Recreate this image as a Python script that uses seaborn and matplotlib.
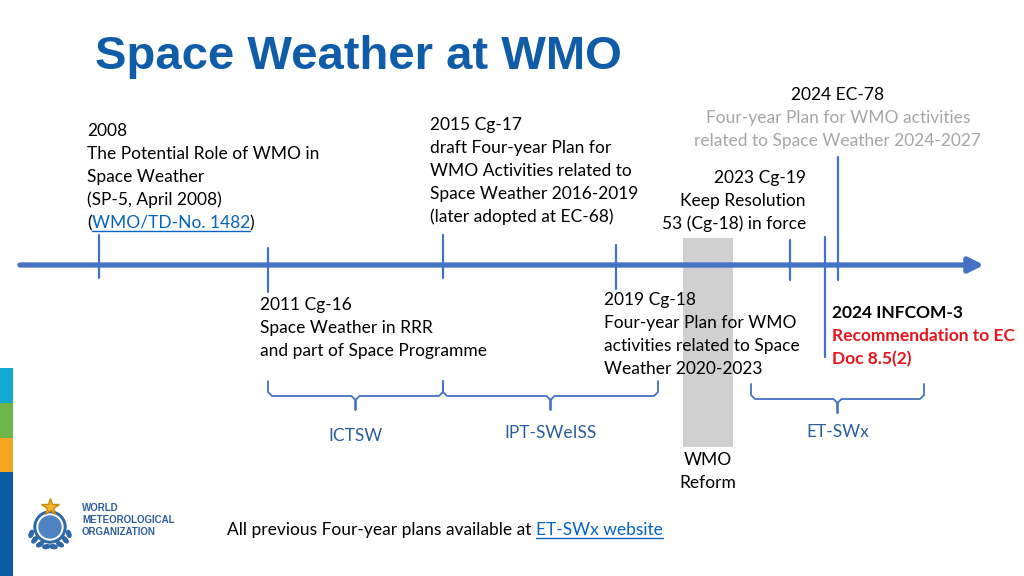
import numpy as np
import pandas as pd
import seaborn as sns
import matplotlib.pyplot as plt
from matplotlib.patches import Rectangle, Circle, Ellipse

# Timeline events
events = ["2008", "2011 Cg-16", "2015 Cg-17", "2019 Cg-18", "2023 Cg-19", "2024 INFCOM-3", "2024 EC-78"]
event_pos = [99, 268, 443, 616, 790, 825, 838]
tick_top = [235, 248, 235, 245, 240, 237, 157]
tick_bottom = [278, 292, 278, 289, 280, 357, 280]

# Bodies (bracketed periods)
periods = ["ICTSW", "IPT-SWeISS", "ET-SWx"]
period_start = [268, 443, 751]
period_end = [443, 658, 924]

# Event descriptions
txt_2008 = ["2008", "The Potential Role of WMO in", "Space Weather", "(SP-5, April 2008)"]
link_2008 = "WMO/TD-No. 1482"
txt_2011 = ["2011 Cg-16", "Space Weather in RRR", "and part of Space Programme"]
txt_2015 = ["2015 Cg-17", "draft Four-year Plan for", "WMO Activities related to",
            "Space Weather 2016-2019", "(later adopted at EC-68)"]
txt_2019 = ["2019 Cg-18", "Four-year Plan for WMO", "activities related to Space", "Weather 2020-2023"]
txt_2023 = ["2023 Cg-19", "Keep Resolution", "53 (Cg-18) in force"]
txt_ec78 = "2024 EC-78"
txt_ec78_sub = ["Four-year Plan for WMO activities", "related to Space Weather 2024-2027"]
txt_infcom = "2024 INFCOM-3"
txt_infcom_sub = ["Recommendation to EC", "Doc 8.5(2)"]
reform_label = ["WMO", "Reform"]
footer = "All previous Four-year plans available at "
footer_link = "ET-SWx website"

BLUE = "#4472C4"
TITLE_BLUE = "#0F5CA8"
LINK = "#0563C1"
DARKBLUE = "#2B5E9C"
FONT = ["Lato", "DejaVu Sans"]
FS = 12.5
LH = 23

sns.set_theme(style="white")
plt.rcParams["font.family"] = FONT

fig = plt.figure(figsize=(10.24, 5.76), dpi=100)
ax = fig.add_axes([0, 0, 1, 1])
ax.set_xlim(0, 1024)
ax.set_ylim(576, 0)
ax.axis("off")
renderer = fig.canvas.get_renderer()


def txt(x, y, s, **kw):
    kw.setdefault("fontsize", FS)
    kw.setdefault("color", "black")
    kw.setdefault("va", "baseline")
    return ax.text(x, y, s, **kw)


def width(t):
    bb = t.get_window_extent(renderer=renderer)
    return bb.width


def underline(t, x, y, color):
    w = width(t)
    ax.plot([x, x + w], [y + 2.5, y + 2.5], color=color, lw=1.0)


def block(x, y0, lines, **kw):
    for i, s in enumerate(lines):
        txt(x, y0 + i * LH, s, **kw)


# Title
ax.text(95, 69, "Space Weather at WMO", fontsize=34, fontweight="bold",
        color=TITLE_BLUE, family="Liberation Sans", va="baseline")

# Left colour strip
for y0, y1, c in [(368, 403, "#14A8D5"), (403, 438, "#6DB54B"),
                  (438, 472, "#F5A623"), (472, 576, "#0B5AA6")]:
    ax.add_patch(Rectangle((0, y0), 13, y1 - y0, color=c, lw=0))

# WMO Reform band
ax.add_patch(Rectangle((683, 238), 50, 209, color="#D0D0D0", lw=0, zorder=1))

# Main timeline arrow
ax.annotate("", xy=(984, 265), xytext=(20, 265),
            arrowprops=dict(arrowstyle="-|>", lw=3.8, color=BLUE, mutation_scale=22,
                            shrinkA=0, shrinkB=0), zorder=3)

# Event ticks
ticks = pd.DataFrame({
    "x": np.repeat(event_pos, 2),
    "y": np.column_stack([tick_top, tick_bottom]).ravel(),
    "event": np.repeat(events, 2),
})
sns.lineplot(data=ticks, x="x", y="y", units="event", estimator=None, sort=False,
             color=BLUE, lw=1.6, ax=ax, zorder=4)

# Curly brackets for bodies
brace_rows = []
tops = [381, 381, 384]
for name, a, b, top in zip(periods, period_start, period_end, tops):
    c = (a + b) / 2
    mid = top + 15
    tip = mid + 14
    r = 4
    xs = [a, a, a + r, c - r, c, c, c, c + r, b - r, b, b]
    ys = [top, mid - r, mid, mid, mid + r, tip, mid + r, mid, mid, mid - r, top]
    for xx, yy in zip(xs, ys):
        brace_rows.append((name, xx, yy))
braces = pd.DataFrame(brace_rows, columns=["body", "x", "y"])
sns.lineplot(data=braces, x="x", y="y", units="body", estimator=None, sort=False,
             color=BLUE, lw=1.3, ax=ax)

for name, a, b, yb in zip(periods, period_start, period_end, [441, 438, 437]):
    txt((a + b) / 2, yb, name, ha="center", color=DARKBLUE)

# Texts above the line
block(87, 136, txt_2008)
y_last = 136 + 4 * LH
t0 = txt(87, y_last, "(")
x1 = 87 + width(t0)
t1 = txt(x1, y_last, link_2008, color=LINK)
underline(t1, x1, y_last, LINK)
txt(x1 + width(t1), y_last, ")")

block(430, 130, txt_2015)
txt(838, 100, txt_ec78, ha="center")
block(838, 123, txt_ec78_sub, ha="center", color="#A6A6A6")
block(806, 183, txt_2023, ha="right")

# Texts below the line
block(260, 310, txt_2011)
block(604, 305, txt_2019)
txt(832, 318, txt_infcom, fontweight="bold")
block(832, 341, txt_infcom_sub, fontweight="bold", color="#E8141B")
block(708, 465, reform_label, ha="center")

# Footer
tf = txt(227, 535, footer)
xf = 227 + width(tf)
tl = txt(xf, 535, footer_link, color=LINK)
underline(tl, xf, 535, LINK)

# WMO logo (simplified emblem with wreath)
for ang in np.linspace(200, 340, 8):
    t = np.deg2rad(ang)
    for side in (-1, 1):
        ax.add_patch(Ellipse((50 + side * 20 * np.cos(t), 527 - 20 * np.sin(t)), 7, 3.5,
                             angle=side * (ang - 90), color="#2F67A8", zorder=5))
ax.add_patch(Circle((50, 527), 16, color="#2F67A8", zorder=5))
ax.add_patch(Circle((50, 527), 13, color="white", zorder=6))
ax.add_patch(Circle((50, 527), 11, color="#4F82C2", zorder=7))
ax.plot([50], [507], marker="*", ms=13, color="#F3B52A", mec="#C98A10", zorder=8)
for i, s in enumerate(["WORLD", "METEOROLOGICAL", "ORGANIZATION"]):
    ax.text(82, 511 + i * 12, s, fontsize=7, fontweight="bold", color="#2F5E9C",
            family="Liberation Sans", va="baseline")

fig.savefig("out.png", dpi=100)
